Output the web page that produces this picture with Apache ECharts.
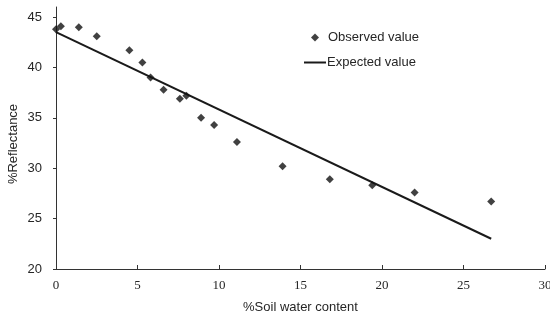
<!DOCTYPE html>
<html>
<head>
<meta charset="utf-8">
<script src="https://cdn.jsdelivr.net/npm/echarts@6/dist/echarts.min.js"></script>
<style>
	html, body { margin: 0; padding: 0; background: #fff; }
	#chart { width: 550px; height: 314px; }
</style>
</head>
<body>
<div id="chart"></div>
<script>
// observed points: [soil water %, reflectance %]
const soilWater = [0, 0.3, 1.4, 2.5, 4.5, 5.3, 5.8, 6.6, 7.6, 8.0, 8.9, 9.7, 11.1, 13.9, 16.8, 19.4, 22.0, 26.7];
const reflectance = [43.8, 44.1, 44.0, 43.1, 41.7, 40.5, 39.0, 37.8, 36.9, 37.2, 35.0, 34.3, 32.6, 30.2, 28.9, 28.3, 27.6, 26.7];
// fitted line end points
const fitX = [0, 26.7];
const fitY = [43.5, 23.0];
const yTicks = [20, 25, 30, 35, 40, 45];

const ink = "#262626";
const legendText = {
	fontFamily: "Liberation Sans",
	fontSize: 13,
	color: ink,
};

const option = {
	animation: false,
	backgroundColor: "#fff",
	grid: {
		left: 56,
		right: 5,
		top: 7,
		bottom: 45,
		outerBoundsMode: "none",
	},
	legend: [
		{
			left: 306,
			top: 26,
			itemWidth: 8,
			itemHeight: 8,
			textStyle: Object.assign({ padding: [0, 0, 0, 4] }, legendText),
			data: [{ name: "Observed value", icon: "diamond" }],
		},
		{
			left: 299,
			top: 51,
			itemWidth: 22,
			itemHeight: 2,
			textStyle: Object.assign({ padding: [0, 0, 0, -4] }, legendText),
			data: [{ name: "Expected value", icon: "rect" }],
		},
	],
	xAxis: {
		type: "value",
		min: 0,
		max: 30,
		interval: 5,
		name: "%Soil water content",
		nameLocation: "middle",
		nameGap: 32,
		nameMoveOverlap: false,
		nameTextStyle: {
			fontFamily: "Liberation Sans",
			fontSize: 13,
			color: ink,
		},
		splitLine: { show: false },
		axisLine: { lineStyle: { color: "#333", width: 1 } },
		axisTick: { inside: true, length: 4, lineStyle: { color: "#333" } },
		axisLabel: {
			fontFamily: "Liberation Serif",
			fontSize: 13,
			color: ink,
			margin: 10,
		},
	},
	yAxis: {
		type: "value",
		min: 20,
		max: 46,
		name: "%Reflectance",
		nameLocation: "middle",
		nameGap: 36,
		nameMoveOverlap: false,
		nameTextStyle: {
			fontFamily: "Liberation Sans",
			fontSize: 13,
			color: ink,
			padding: [0, 12, 0, 0],
		},
		splitLine: { show: false },
		axisLine: { show: true, lineStyle: { color: "#333", width: 1 } },
		axisTick: {
			show: true,
			length: 3,
			customValues: yTicks,
			lineStyle: { color: "#333" },
		},
		axisLabel: {
			customValues: yTicks,
			fontFamily: "Liberation Sans",
			fontSize: 13,
			color: ink,
			margin: 14,
		},
	},
	series: [
		{
			name: "Observed value",
			type: "scatter",
			symbol: "diamond",
			symbolSize: 8,
			itemStyle: { color: "#111" },
			data: soilWater.map(function (x, i) {
				return [x, reflectance[i]];
			}),
			z: 3,
		},
		{
			name: "Expected value",
			type: "line",
			symbol: "none",
			lineStyle: { color: "#1a1a1a", width: 2 },
			itemStyle: { color: "#1a1a1a" },
			data: fitX.map(function (x, i) {
				return [x, fitY[i]];
			}),
			z: 2,
		},
	],
};

const chartDom = document.getElementById("chart");
const chart = echarts.init(chartDom);
chart.setOption(option);
</script>
</body>
</html>
